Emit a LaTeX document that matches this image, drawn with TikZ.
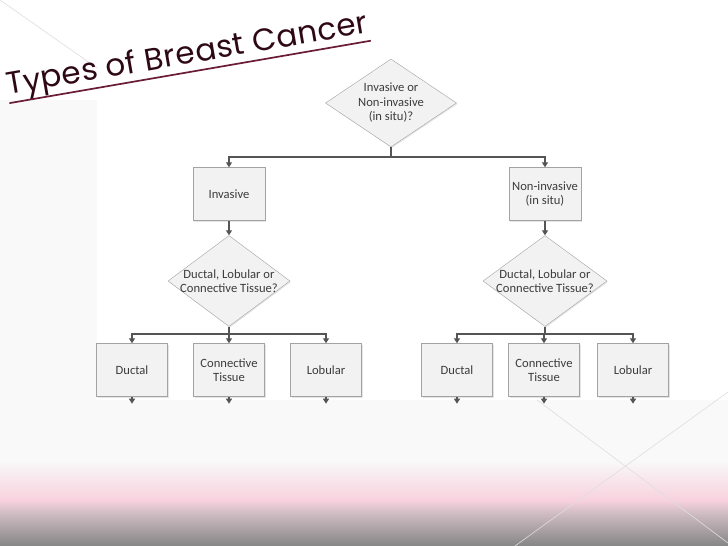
\documentclass[tikz,border=0pt]{standalone}
\usepackage{fontspec}
\setmainfont{Carlito}
\newfontfamily\titlefont[LetterSpace=1.5]{Poppins}
\usetikzlibrary{shapes.geometric, arrows.meta, shadows}

\definecolor{txtgray}{HTML}{3C3C3C}
\definecolor{linegray}{HTML}{555555}
\definecolor{boxline}{HTML}{A3A3A3}
\definecolor{boxfill}{HTML}{F2F2F2}
\definecolor{titlered}{HTML}{6A1B38}
\definecolor{titledark}{HTML}{2E0915}
\definecolor{slidepink}{HTML}{F8D2DE}
\definecolor{slidemauve}{HTML}{CDBBC1}
\definecolor{slidegray}{HTML}{858585}

\tikzset{
  box/.style={rectangle, draw=boxline, fill=boxfill, text=txtgray,
    minimum width=71pt, minimum height=53pt, align=center,
    font=\fontsize{12.6}{14.5}\selectfont,
    drop shadow={opacity=0.2, shadow xshift=1pt, shadow yshift=-1pt}},
  question/.style={diamond, draw=boxline, fill=boxfill, text=txtgray,
    inner sep=-10pt, align=center, font=\fontsize{12.6}{14.5}\selectfont,
    minimum width=122pt, minimum height=91pt,
    drop shadow={opacity=0.2, shadow xshift=1pt, shadow yshift=-1pt}},
  conn/.style={draw=linegray, line width=1.2pt},
  arr/.style={conn, -{Triangle[width=6pt, length=5pt]}},
  deco/.style={draw=black!13, line width=0.6pt}
}

\begin{document}
\begin{tikzpicture}[x=1pt, y=-1pt]
   %
   \useasboundingbox (0,0) rectangle (728,546);
   %
   % slide background
   \fill[white] (0,0) rectangle (728,546);
   \fill[black!2.5] (0,100) rectangle (728,462);
   \draw[deco] (0,0) -- (97,68);
   \fill[white] (97,70) rectangle (728,400);
   \shade[top color=black!2.5, bottom color=slidepink] (0,460) rectangle (728,500);
   \shade[top color=slidepink, bottom color=slidemauve] (0,500) rectangle (728,514);
   \shade[top color=slidemauve, bottom color=slidegray] (0,514) rectangle (728,546);
   \draw[deco] (537,400) -- (728,543);
   \draw[deco] (728,392) -- (515,546);
   %
   % title
   \node[rotate=9.8, anchor=base west, inner sep=0pt, text=titledark,
         font=\titlefont\fontsize{31}{31}\selectfont] (title) at (8,95)
         {Types of Breast Cancer};
   \draw[titlered, line width=1.7pt] (title.south west) -- (title.south east);
   %
   % first question
   \node[question, minimum width=131pt, minimum height=88pt] (q1) at (391,103)
        {Invasive or\\Non-invasive\\(in situ)?};
   \coordinate (j1) at (391,157);
   %
   \node[box, minimum width=72pt] (inv) at (229,194) {Invasive};
   \node[box, minimum width=70pt] (non) at (545,194) {Non-invasive\\(in situ)};
   %
   \draw[conn] (q1.south) -- (j1);
   \draw[arr] (j1) -| (inv.north);
   \draw[arr] (j1) -| (non.north);
   %
   % second questions
   \node[question] (q2) at (229,281) {Ductal, Lobular or\\Connective Tissue?};
   \node[question, minimum width=124pt] (q3) at (545,281) {Ductal, Lobular or\\Connective Tissue?};
   \draw[arr] (inv.south) -- (q2.north);
   \draw[arr] (non.south) -- (q3.north);
   \coordinate (j2) at (229,334);
   \coordinate (j3) at (545,334);
   \draw[conn] (q2.south) -- (j2);
   \draw[conn] (q3.south) -- (j3);
   %
   % tissue types
   \foreach \n/\x/\t in {d1/132/Ductal, c1/229/{Connective\\Tissue}, l1/326/Lobular,
                         d2/457/Ductal, c2/544/{Connective\\Tissue}, l2/633/Lobular}
     \node[box] (\n) at (\x,370) {\t};
   %
   \draw[arr] (j2) -| (d1.north);
   \draw[arr] (j2) -- (c1.north);
   \draw[arr] (j2) -| (l1.north);
   \draw[arr] (j3) -| (d2.north);
   \draw[arr] (j3) -| (c2.north);
   \draw[arr] (j3) -| (l2.north);
   %
   \foreach \n in {d1,c1,l1,d2,c2,l2}
   {
     \path (\n.south) ++(0,7) coordinate (\n-end);
     \draw[arr] (\n.south) -- (\n-end);
   }
   %
\end{tikzpicture}
\end{document}
